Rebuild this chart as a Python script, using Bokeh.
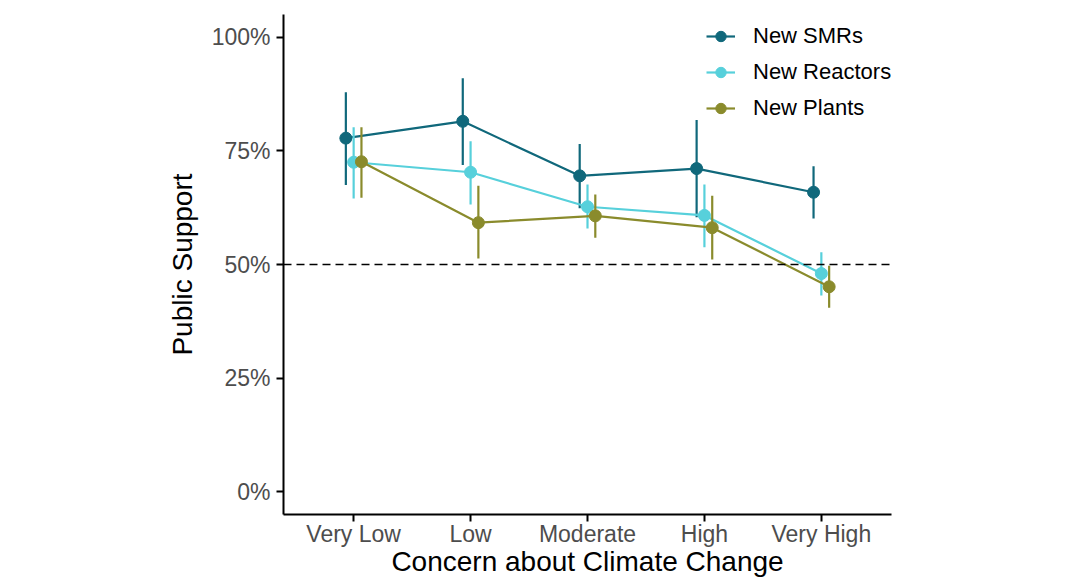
from bokeh.plotting import figure
from bokeh.models import (ColumnDataSource, FactorRange, Range1d, Span, Legend, LegendItem,
                          FixedTicker, NumeralTickFormatter)
from bokeh.transform import dodge
from bokeh.embed import file_html
from bokeh.resources import INLINE

categories = ["Very Low", "Low", "Moderate", "High", "Very High"]

smr_mean = [0.778, 0.815, 0.695, 0.711, 0.659]
smr_low = [0.675, 0.719, 0.624, 0.604, 0.601]
smr_high = [0.879, 0.910, 0.765, 0.818, 0.716]

reactor_mean = [0.725, 0.703, 0.627, 0.608, 0.480]
reactor_low = [0.645, 0.632, 0.579, 0.538, 0.432]
reactor_high = [0.802, 0.771, 0.676, 0.676, 0.527]

plant_mean = [0.726, 0.592, 0.607, 0.581, 0.451]
plant_low = [0.647, 0.513, 0.559, 0.511, 0.405]
plant_high = [0.802, 0.673, 0.654, 0.651, 0.497]

series_names = ["New SMRs", "New Reactors", "New Plants"]
colors = ["#10687B", "#57D0DB", "#8A8B2C"]
offsets = [-0.0667, 0.0, 0.0667]

FONT = "Liberation Sans"

p = figure(width=1068, height=580, output_backend="svg", toolbar_location=None,
           x_range=FactorRange(*categories, range_padding=0.1, range_padding_units="absolute"),
           y_range=Range1d(-0.05, 1.05),
           min_border_left=283, min_border_right=177, min_border_top=14, min_border_bottom=66)
p.outline_line_color = None
p.xgrid.visible = False
p.ygrid.visible = False
p.background_fill_color = "white"

p.add_layout(Span(location=0.5, dimension="width", line_color="black",
                  line_width=1.6, line_dash="8 5"))

items = []
data = [(smr_mean, smr_low, smr_high), (reactor_mean, reactor_low, reactor_high),
        (plant_mean, plant_low, plant_high)]
for name, color, off, (m, lo, hi) in zip(series_names, colors, offsets, data):
    src = ColumnDataSource(dict(cat=categories, m=m, lo=lo, hi=hi))
    xd = dodge("cat", off, range=p.x_range)
    p.segment(x0=xd, y0="lo", x1=xd, y1="hi", source=src, line_color=color, line_width=2.2)
    ln = p.line(x=xd, y="m", source=src, line_color=color, line_width=2.2)
    sc = p.scatter(x=xd, y="m", source=src, size=12, fill_color=color, line_color=color)
    items.append(LegendItem(label=name, renderers=[ln, sc]))

legend = Legend(items=items, location=(423, 393), padding=0, margin=0,
                border_line_color=None, background_fill_alpha=0,
                glyph_width=29, glyph_height=26, label_height=26, spacing=10,
                label_standoff=18, label_text_font=FONT, label_text_font_size="22px",
                label_text_color="black")
p.add_layout(legend)

p.yaxis.ticker = FixedTicker(ticks=[0, 0.25, 0.5, 0.75, 1.0])
p.yaxis.formatter = NumeralTickFormatter(format="0%")

for ax in (p.xaxis[0], p.yaxis[0]):
    ax.axis_line_color = "black"
    ax.axis_line_width = 2
    ax.major_tick_line_color = "black"
    ax.major_tick_line_width = 2
    ax.major_tick_out = 7
    ax.major_tick_in = 0
    ax.minor_tick_line_color = None
    ax.major_label_text_font = FONT
    ax.major_label_text_font_size = "23px"
    ax.major_label_text_color = "#4D4D4D"
    ax.axis_label_text_font = FONT
    ax.axis_label_text_font_size = "28px"
    ax.axis_label_text_font_style = "normal"
    ax.axis_label_text_color = "black"

p.xaxis.axis_label = "Concern about Climate Change"
p.yaxis.axis_label = "Public Support"
p.xaxis.major_label_standoff = -1
p.xaxis.axis_label_standoff = -4
p.yaxis.major_label_standoff = 6
p.yaxis.axis_label_standoff = 11

open("out.html", "w").write(file_html(p, INLINE))
